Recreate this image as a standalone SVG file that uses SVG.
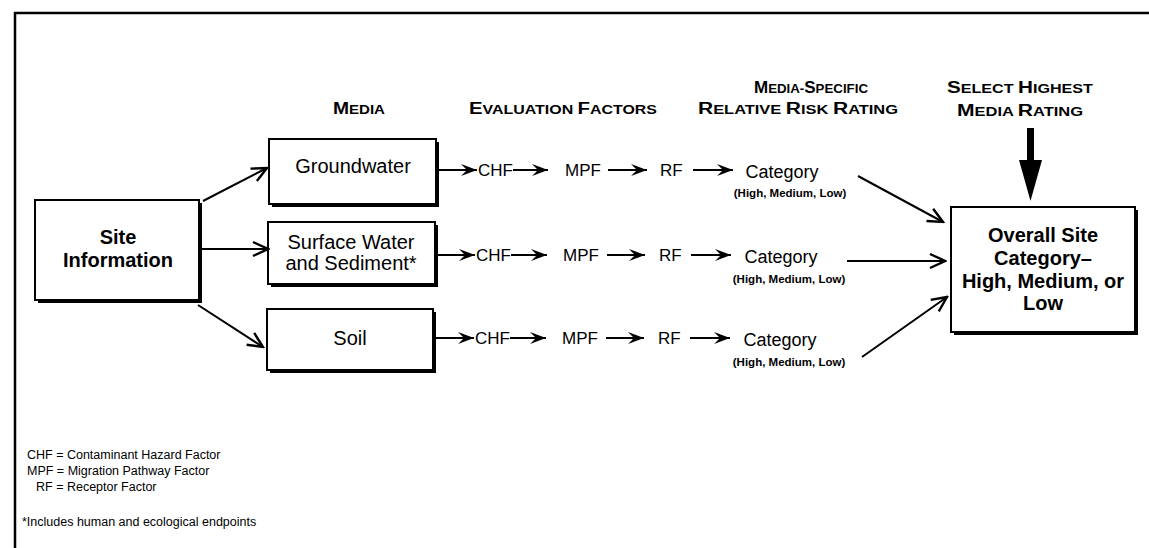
<svg xmlns="http://www.w3.org/2000/svg" width="1149" height="548" viewBox="0 0 1149 548">
<style>
  text { font-family: "Liberation Sans", Arial, sans-serif; fill: #000; }
  .hdr { font-weight: bold; }
  .big { font-size: 16px; }
  .sm { font-size: 12.5px; }
  .box { fill: #fff; stroke: #000; stroke-width: 2; }
  .shadow { fill: #000; }
  .lbl { font-size: 20px; text-anchor: middle; }
  .blbl { font-size: 20px; font-weight: bold; text-anchor: middle; }
  .fac { font-size: 17px; }
  .cat { font-size: 18px; text-anchor: middle; }
  .hml { font-size: 11.5px; font-weight: bold; text-anchor: middle; }
  .note { font-size: 12.5px; }
  .flow { stroke: #000; stroke-width: 2; fill: none; marker-end: url(#barb); }
  .diag { stroke: #000; stroke-width: 2; fill: none; marker-end: url(#vee); }
</style>
<defs>
  <marker id="barb" viewBox="-17 -7 18 14" refX="0" refY="0" markerWidth="18" markerHeight="14" orient="auto" markerUnits="userSpaceOnUse">
    <path d="M0,0 L-16,-6 L-10,0 L-16,6 Z" fill="#000"/>
  </marker>
  <marker id="vee" viewBox="-17 -9 19 18" refX="0" refY="0" markerWidth="19" markerHeight="18" orient="auto" markerUnits="userSpaceOnUse">
    <path d="M-15,-7 L0,0 L-15,7" fill="none" stroke="#000" stroke-width="2.4"/>
  </marker>
</defs>
<rect x="0" y="0" width="1149" height="548" fill="#fff"/>

<g id="frame">
  <line x1="14" y1="13" x2="1149" y2="13" stroke="#000" stroke-width="2.5"/>
  <line x1="15" y1="12" x2="15" y2="548" stroke="#000" stroke-width="2.5"/>
</g>

<g id="headers" class="hdr">
  <text x="333" y="114" textLength="52" lengthAdjust="spacingAndGlyphs"><tspan class="big">M</tspan><tspan class="sm">EDIA</tspan></text>
  <text x="469" y="114" textLength="188" lengthAdjust="spacingAndGlyphs"><tspan class="big">E</tspan><tspan class="sm">VALUATION </tspan><tspan class="big">F</tspan><tspan class="sm">ACTORS</tspan></text>
  <text x="754" y="93" textLength="114" lengthAdjust="spacingAndGlyphs"><tspan class="big">M</tspan><tspan class="sm">EDIA-</tspan><tspan class="big">S</tspan><tspan class="sm">PECIFIC</tspan></text>
  <text x="698" y="114" textLength="200" lengthAdjust="spacingAndGlyphs"><tspan class="big">R</tspan><tspan class="sm">ELATIVE </tspan><tspan class="big">R</tspan><tspan class="sm">ISK </tspan><tspan class="big">R</tspan><tspan class="sm">ATING</tspan></text>
  <text x="947" y="93" textLength="146" lengthAdjust="spacingAndGlyphs"><tspan class="big">S</tspan><tspan class="sm">ELECT </tspan><tspan class="big">H</tspan><tspan class="sm">IGHEST</tspan></text>
  <text x="957" y="116" textLength="126" lengthAdjust="spacingAndGlyphs"><tspan class="big">M</tspan><tspan class="sm">EDIA </tspan><tspan class="big">R</tspan><tspan class="sm">ATING</tspan></text>
</g>

<g id="node-site">
  <rect class="shadow" x="38" y="203" width="164" height="100"/>
  <rect class="box" x="35" y="200" width="164" height="100"/>
  <text class="blbl" x="118" y="244">Site</text>
  <text class="blbl" x="118" y="267">Information</text>
</g>

<g id="node-groundwater">
  <rect class="shadow" x="272" y="142" width="167" height="65"/>
  <rect class="box" x="269" y="139" width="167" height="65"/>
  <text class="lbl" x="353" y="173">Groundwater</text>
</g>

<g id="node-surface">
  <rect class="shadow" x="271" y="225" width="167" height="62"/>
  <rect class="box" x="268" y="222" width="167" height="62"/>
  <text class="lbl" x="351" y="249">Surface Water</text>
  <text class="lbl" x="351" y="270">and Sediment*</text>
</g>

<g id="node-soil">
  <rect class="shadow" x="270" y="312" width="166" height="61"/>
  <rect class="box" x="267" y="309" width="166" height="61"/>
  <text class="lbl" x="350" y="345">Soil</text>
</g>

<g id="node-overall">
  <rect class="shadow" x="954" y="210" width="184" height="125"/>
  <rect class="box" x="951" y="207" width="184" height="125"/>
  <text class="blbl" x="1043" y="242">Overall Site</text>
  <text class="blbl" x="1043" y="265">Category–</text>
  <text class="blbl" x="1043" y="288">High, Medium, or</text>
  <text class="blbl" x="1043" y="310">Low</text>
</g>

<g id="factors">
  <text class="fac" x="478" y="176">CHF</text>
  <text class="fac" x="565" y="176">MPF</text>
  <text class="fac" x="660" y="176">RF</text>
  <text class="cat" x="782" y="178">Category</text>
  <text class="hml" x="790" y="197">(High, Medium, Low)</text>

  <text class="fac" x="476" y="261">CHF</text>
  <text class="fac" x="563" y="261">MPF</text>
  <text class="fac" x="659" y="261">RF</text>
  <text class="cat" x="781" y="263">Category</text>
  <text class="hml" x="789" y="283">(High, Medium, Low)</text>

  <text class="fac" x="475" y="344">CHF</text>
  <text class="fac" x="562" y="344">MPF</text>
  <text class="fac" x="658" y="344">RF</text>
  <text class="cat" x="780" y="346">Category</text>
  <text class="hml" x="789" y="366">(High, Medium, Low)</text>
</g>

<g id="select-arrow">
  <rect x="1027" y="128" width="7" height="34" fill="#000"/>
  <path d="M1019,160 L1042,160 L1030.5,201 Z" fill="#000"/>
</g>

<g id="connectors">
  <line class="diag" x1="203" y1="201" x2="267" y2="168"/>
  <line class="diag" x1="202" y1="249" x2="268" y2="249"/>
  <line class="diag" x1="198" y1="305" x2="263" y2="347"/>

  <line class="flow" x1="439" y1="170" x2="477" y2="170"/>
  <line class="flow" x1="513" y1="170" x2="548" y2="170"/>
  <line class="flow" x1="608" y1="170" x2="647" y2="170"/>
  <line class="flow" x1="693" y1="170" x2="733" y2="170"/>

  <line class="flow" x1="437" y1="255" x2="475" y2="255"/>
  <line class="flow" x1="511" y1="255" x2="547" y2="255"/>
  <line class="flow" x1="607" y1="255" x2="645" y2="255"/>
  <line class="flow" x1="691" y1="255" x2="731" y2="255"/>

  <line class="flow" x1="436" y1="338" x2="474" y2="338"/>
  <line class="flow" x1="510" y1="338" x2="546" y2="338"/>
  <line class="flow" x1="606" y1="338" x2="644" y2="338"/>
  <line class="flow" x1="690" y1="338" x2="730" y2="338"/>

  <line class="diag" x1="858" y1="176" x2="943" y2="222"/>
  <line class="diag" x1="847" y1="261" x2="945" y2="261"/>
  <line class="diag" x1="862" y1="357" x2="947" y2="297"/>
</g>

<g id="legend">
  <text class="note" x="27" y="459">CHF = Contaminant Hazard Factor</text>
  <text class="note" x="27" y="475">MPF = Migration Pathway Factor</text>
  <text class="note" x="36" y="491">RF  = Receptor Factor</text>
  <text class="note" x="22" y="526">*Includes human and ecological endpoints</text>
</g>
</svg>
